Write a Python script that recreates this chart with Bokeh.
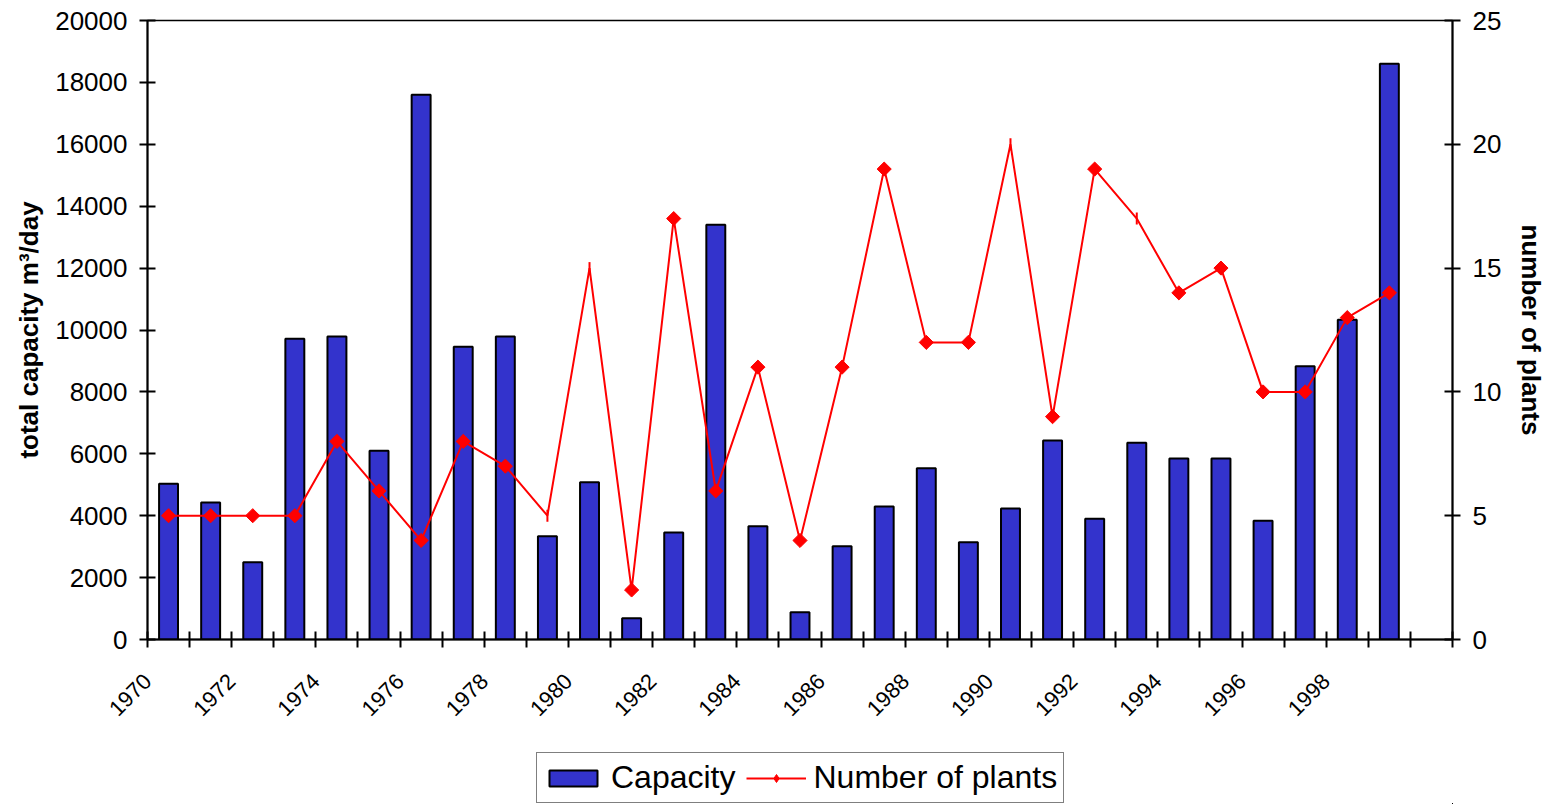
from math import pi
from bokeh.plotting import figure
from bokeh.layouts import column
from bokeh.models import Range1d, LinearAxis, FixedTicker, Legend, LegendItem
from bokeh.embed import file_html
from bokeh.resources import INLINE

years = list(range(1970, 2000))
capacity = [5030, 4430, 2500, 9720, 9790, 6100, 17600, 9460, 9790, 3340,
            5080, 690, 3460, 13400, 3660, 880, 3010, 4300, 5530, 3140,
            4230, 6430, 3900, 6360, 5850, 5850, 3840, 8830, 10330, 18600]
plants = [5, 5, 5, 5, 8, 6, 4, 8, 7, 5,
          15, 2, 17, 6, 11, 4, 11, 19, 12, 12,
          20, 9, 19, 17, 14, 15, 10, 10, 13, 14]
no_marker_years = [1979, 1980, 1990, 1993]
x_tick_years = list(range(1970, 2002))
x_label_years = list(range(1970, 1999, 2))
left_ticks = list(range(0, 20001, 2000))
right_ticks = [0, 5, 10, 15, 20, 25]
series_names = ["Capacity", "Number of plants"]

FONT = "Liberation Sans"
BAR = dict(fill_color="#3333CC", line_color="black", line_width=2)
LINE = dict(line_color="red", line_width=2)
DIA = dict(marker="square", angle=pi / 4, size=10, fill_color="red", line_color="red")

p = figure(width=1549, height=739, output_backend="svg", toolbar_location=None,
           x_range=Range1d(1970, 2001), y_range=Range1d(0, 20000),
           min_border_left=147, min_border_right=95, min_border_top=20,
           min_border_bottom=100)
p.xgrid.visible = False
p.ygrid.visible = False
p.outline_line_color = "black"
p.outline_line_width = 1.5
p.background_fill_color = "white"
p.border_fill_color = "white"
p.extra_y_ranges = {"n": Range1d(0, 25)}

xc = [y + 0.5 for y in years]
p.vbar(x=xc, top=capacity, bottom=0, width=0.45, **BAR)
p.line(xc, plants, y_range_name="n", **LINE)
mx = [x for x, y in zip(xc, years) if y not in no_marker_years]
my = [v for v, y in zip(plants, years) if y not in no_marker_years]
p.scatter(mx, my, y_range_name="n", **DIA)
dx = [x for x, y in zip(xc, years) if y in no_marker_years]
dy = [v for v, y in zip(plants, years) if y in no_marker_years]
p.scatter(dx, dy, y_range_name="n", marker="dash", angle=pi / 2, size=12,
          line_color="red", line_width=2)

def style(ax, size):
    ax.axis_line_color = "black"
    ax.axis_line_width = 2
    ax.major_tick_line_color = "black"
    ax.major_tick_line_width = 2
    ax.major_tick_in = 8
    ax.major_tick_out = 8
    ax.minor_tick_line_color = None
    ax.major_label_text_font = FONT
    ax.major_label_text_font_size = size
    ax.major_label_text_color = "black"
    ax.axis_label_text_font = FONT
    ax.axis_label_text_font_style = "bold"
    ax.axis_label_text_font_size = "26px"
    ax.axis_label_text_color = "black"

xa = p.xaxis[0]
xa.ticker = FixedTicker(ticks=x_tick_years)
xa.major_label_overrides = {y: (str(y) if y in x_label_years else "") for y in x_tick_years}
xa.major_label_orientation = pi / 4
style(xa, "22px")
xa.major_label_standoff = 30

ya = p.yaxis[0]
ya.ticker = FixedTicker(ticks=left_ticks)
ya.axis_label = "total capacity m³/day"
style(ya, "26px")
ya.major_label_standoff = 12
ya.axis_label_standoff = 8

ra = LinearAxis(y_range_name="n", ticker=FixedTicker(ticks=right_ticks),
                axis_label="number of plants")
style(ra, "26px")
ra.major_label_standoff = 12
ra.axis_label_standoff = 12
p.add_layout(ra, "right")

# legend strip below the chart; its renderers hold the real data but lie
# outside this strip's visible ranges (both x and y), so only the legend shows
lg = figure(width=1549, height=65, output_backend="svg", toolbar_location=None,
            x_range=Range1d(-100000, -50000), y_range=Range1d(100000, 200000),
            min_border_left=0, min_border_right=0, min_border_top=0, min_border_bottom=0)
lg.axis.visible = False
lg.xgrid.visible = False
lg.ygrid.visible = False
lg.outline_line_color = None
lg.background_fill_color = "white"
lg.border_fill_color = "white"
lb = lg.vbar(x=xc, top=capacity, width=0.45, **BAR)
ll = lg.line(xc, plants, **LINE)
ld = lg.scatter(xc, plants, marker="diamond", size=14, fill_color="red", line_color="red")
legend = Legend(items=[LegendItem(label=series_names[0], renderers=[lb]),
                       LegendItem(label=series_names[1], renderers=[ll, ld])],
                orientation="horizontal", location=(389, 1),
                border_line_color="black", border_line_width=1.5,
                label_text_font=FONT, label_text_font_size="32px",
                label_text_color="black",
                glyph_width=60, glyph_height=20, label_standoff=8,
                spacing=10, padding=6, margin=0,
                background_fill_color="white")
lg.add_layout(legend, "center")

open("out.html", "w").write(file_html(column(p, lg), INLINE))
